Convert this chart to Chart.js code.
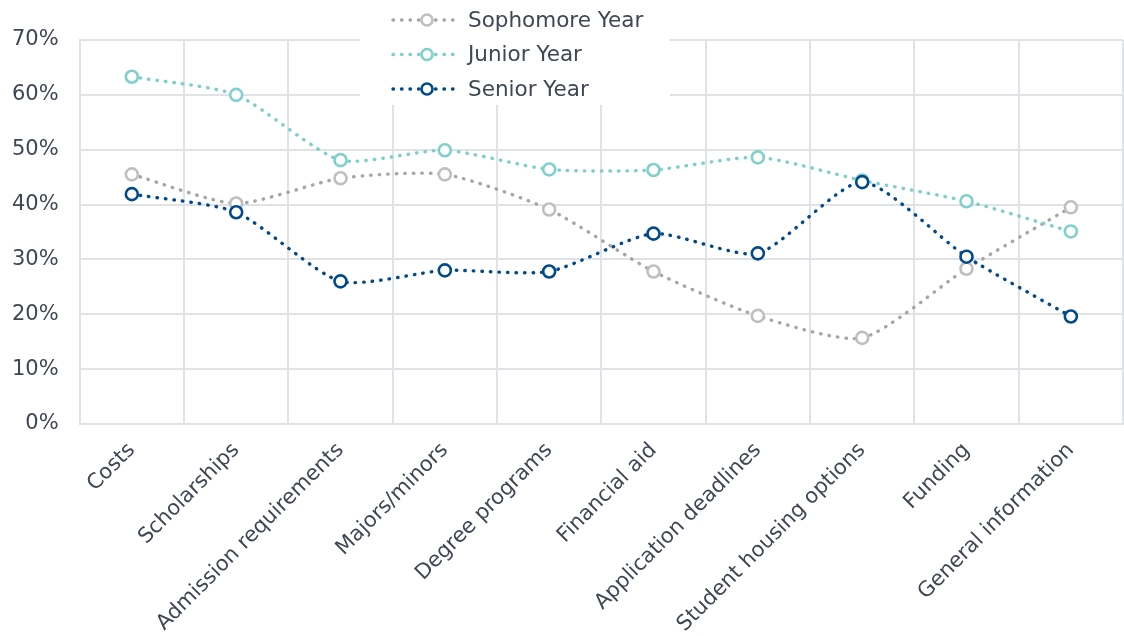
<!DOCTYPE html>
<html>
<head>
<meta charset="utf-8">
<script src="https://cdn.jsdelivr.net/npm/chart.js@4.4.1/dist/chart.umd.min.js"></script>
<style>
  html, body { margin: 0; padding: 0; background: #ffffff; }
  #wrap { width: 1124px; height: 636px; }
</style>
</head>
<body>
<div id="wrap"><canvas id="chart" width="1124" height="636"></canvas></div>
<script>
// Share of students by topic of interest, per school year (percent)
const categories = [
  'Costs', 'Scholarships', 'Admission requirements', 'Majors/minors',
  'Degree programs', 'Financial aid', 'Application deadlines',
  'Student housing options', 'Funding', 'General information'
];
const sophomoreYear = [45.5, 40.2, 44.8, 45.5, 39.1, 27.8, 19.7, 15.7, 28.3, 39.5];
const juniorYear    = [63.3, 60.0, 48.1, 49.9, 46.4, 46.3, 48.6, 44.4, 40.6, 35.1];
const seniorYear    = [41.9, 38.6, 26.0, 28.0, 27.8, 34.7, 31.1, 44.1, 30.5, 19.6];
const yTicks = [0, 10, 20, 30, 40, 50, 60, 70];

const FONT = "'DejaVu Sans', Verdana, sans-serif";
const TEXT = '#3e4753';
const GRID = '#dfe2e7';

const series = [
  { label: 'Sophomore Year', data: sophomoreYear, line: '#a6a6a6', ring: '#bfbfbf', order: 2 },
  { label: 'Junior Year',    data: juniorYear,    line: '#7ccfcc', ring: '#7fd0cd', order: 1 },
  { label: 'Senior Year',    data: seniorYear,    line: '#00498a', ring: '#00498a', order: 0 }
];

const DASH = [0.5, 8];

const datasets = series.map(s => ({
  label: s.label,
  data: s.data,
  order: s.order,
  borderColor: s.line,
  borderWidth: 3.4,
  borderDash: DASH,
  borderCapStyle: 'round',
  tension: 0.22,
  fill: false,
  pointRadius: 6,
  pointHoverRadius: 6,
  pointBorderWidth: 2.6,
  pointBorderColor: s.ring,
  pointBackgroundColor: '#ffffff'
}));

// Legend drawn on a white panel overlapping the top of the plot
const panelLegend = {
  id: 'panelLegend',
  afterDraw(chart) {
    const ctx = chart.ctx;
    ctx.save();
    ctx.fillStyle = '#ffffff';
    ctx.fillRect(360, 0, 310, 105);
    series.forEach((s, i) => {
      const y = 20 + i * 34.5;
      ctx.beginPath();
      ctx.setLineDash(DASH);
      ctx.lineCap = 'round';
      ctx.lineWidth = 3.4;
      ctx.strokeStyle = s.line;
      ctx.moveTo(393, y);
      ctx.lineTo(461, y);
      ctx.stroke();
      ctx.setLineDash([]);
      ctx.beginPath();
      ctx.arc(427, y, 5.5, 0, Math.PI * 2);
      ctx.fillStyle = '#ffffff';
      ctx.fill();
      ctx.lineWidth = 2.6;
      ctx.strokeStyle = s.ring;
      ctx.stroke();
      ctx.fillStyle = TEXT;
      ctx.font = '21.5px ' + FONT;
      ctx.textBaseline = 'middle';
      ctx.textAlign = 'left';
      ctx.fillText(s.label, 468, y + 1);
    });
    ctx.restore();
  }
};

new Chart(document.getElementById('chart'), {
  type: 'line',
  data: { labels: categories, datasets },
  options: {
    responsive: false,
    animation: false,
    devicePixelRatio: 1,
    layout: { autoPadding: false, padding: { top: 40, right: 1, left: 12, bottom: 0 } },
    plugins: {
      legend: { display: false },
      tooltip: { enabled: false }
    },
    scales: {
      x: {
        offset: true,
        grid: { offset: true, color: GRID, lineWidth: 2, drawTicks: false },
        border: { color: GRID, width: 2 },
        ticks: {
          color: TEXT,
          font: { family: FONT, size: 21 },
          minRotation: 45,
          maxRotation: 45,
          padding: 14,
          autoSkip: false
        },
        afterFit(scale) {
          // rotated labels stay inside the canvas; no side overflow needed
          scale.paddingLeft = 0;
          scale.paddingRight = 0;
          scale.height -= 15;
        }
      },
      y: {
        min: 0,
        max: 70,
        afterBuildTicks(axis) { axis.ticks = yTicks.map(v => ({ value: v })); },
        grid: { color: GRID, lineWidth: 2, drawTicks: false },
        border: { color: GRID, width: 2 },
        ticks: {
          color: TEXT,
          font: { family: FONT, size: 21 },
          padding: 21,
          callback: v => v + '%'
        },
        afterFit(scale) {
          // padding only between labels and plot, not on the outer side
          scale.width -= 21;
        }
      }
    }
  },
  plugins: [panelLegend]
});
</script>
</body>
</html>
